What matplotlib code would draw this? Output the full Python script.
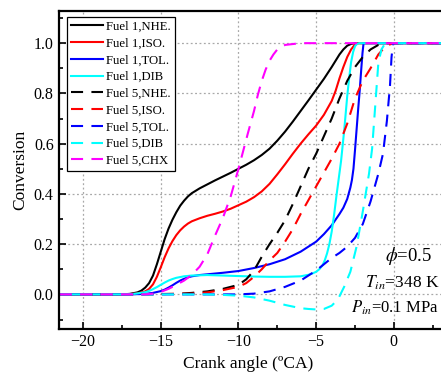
import matplotlib
matplotlib.use("Agg")
import matplotlib.pyplot as plt
from matplotlib.ticker import MultipleLocator

plt.rcParams["font.family"] = ["Liberation Serif", "DejaVu Serif"]
plt.rcParams["mathtext.fontset"] = "stix"

# Fuel 1 (solid lines)
f1_nhe_x = [-21.5, -17.5, -17, -16.5, -16.25, -16, -15.75, -15.5, -15.25, -15, -14.75, -14.5, -14.25,
            -14, -13.75, -13.5, -13.25, -13, -12.5, -12, -11.5, -11, -10.5, -10, -9.5, -9, -8.5, -8,
            -7.5, -7, -6.5, -6, -5.5, -5, -4.5, -4, -3.75, -3.5, -3.25, -3, -2.75, -2.5, 4]
f1_nhe_y = [0, 0, 0.002, 0.008, 0.015, 0.027, 0.045, 0.075, 0.12, 0.17, 0.22, 0.262, 0.297,
            0.327, 0.353, 0.373, 0.39, 0.403, 0.422, 0.438, 0.454, 0.469, 0.484, 0.5, 0.516, 0.534,
            0.555, 0.58, 0.612, 0.648, 0.688, 0.73, 0.772, 0.815, 0.858, 0.905, 0.93, 0.955, 0.975,
            0.99, 0.997, 1.0, 1.0]

f1_iso_x = [-21.5, -17.5, -17, -16.5, -16, -15.75, -15.5, -15.25, -15, -14.75, -14.5, -14.25, -14,
            -13.75, -13.5, -13.25, -13, -12.5, -12, -11.5, -11, -10.5, -10, -9.5, -9, -8.5, -8,
            -7.5, -7, -6.5, -6, -5.5, -5, -4.5, -4, -3.75, -3.5, -3.25, -3, -2.75, -2.5, -2.3, 4]
f1_iso_y = [0, 0, 0.001, 0.004, 0.012, 0.022, 0.04, 0.07, 0.108, 0.148, 0.183, 0.212, 0.236,
            0.255, 0.27, 0.282, 0.291, 0.303, 0.313, 0.321, 0.33, 0.341, 0.355, 0.369, 0.387, 0.41,
            0.44, 0.478, 0.518, 0.56, 0.6, 0.637, 0.672, 0.715, 0.77, 0.81, 0.86, 0.905, 0.945,
            0.975, 0.995, 1.0, 1.0]

f1_tol_x = [-21.5, -17, -16, -15.5, -15, -14.75, -14.5, -14.25, -14, -13.75, -13.5, -13.25, -13,
            -12.5, -12, -11, -10, -9, -8, -7, -6, -5, -4.5, -4, -3.5, -3.25, -3, -2.8, -2.7, -2.6,
            -2.5, -2.4, -2.3, -2.2, -2.1, -2.02, -1.95, 4]
f1_tol_y = [0, 0, 0.002, 0.006, 0.013, 0.019, 0.027, 0.036, 0.046, 0.055, 0.062, 0.068, 0.072,
            0.077, 0.08, 0.086, 0.093, 0.105, 0.12, 0.14, 0.17, 0.21, 0.24, 0.275, 0.32, 0.345,
            0.38, 0.425, 0.455, 0.5, 0.575, 0.655, 0.735, 0.81, 0.895, 0.96, 1.0, 1.0]

f1_dib_x = [-21.5, -17, -16.5, -16, -15.75, -15.5, -15.25, -15, -14.75, -14.5, -14.25, -14, -13.5,
            -13, -12, -11, -10, -9, -8, -7, -6, -5.5, -5.25, -5, -4.8, -4.6, -4.45, -4.3, -4.15,
            -4.0, -3.85, -3.7, -3.55, -3.4, -3.3, -3.2, -3.1, -3.0, -2.87, -2.75, -2.62, -2.5,
            -2.35, -2.2, 4]
f1_dib_y = [0, 0, 0.004, 0.009, 0.014, 0.021, 0.029, 0.038, 0.047, 0.055, 0.061, 0.066, 0.072,
            0.075, 0.077, 0.075, 0.073, 0.071, 0.07, 0.07, 0.072, 0.078, 0.083, 0.09, 0.1, 0.115,
            0.135, 0.163, 0.2, 0.25, 0.315, 0.39, 0.46, 0.53, 0.59, 0.65, 0.72, 0.79, 0.865, 0.925,
            0.965, 0.988, 0.998, 1.0, 1.0]

# Fuel 5 (dashed lines)
f5_nhe_x = [-21.5, -17, -14, -13, -12, -11, -10, -9.5, -9, -8.5, -8, -7.5, -7, -6.5, -6, -5.5, -5,
            -4.5, -4, -3.5, -3, -2.5, -2, -1.5, -1, -0.5, 4]
f5_nhe_y = [0, 0, 0.002, 0.006, 0.012, 0.022, 0.038, 0.06, 0.095, 0.15, 0.2, 0.245, 0.295, 0.36, 0.43,
            0.5, 0.56, 0.63, 0.7, 0.78, 0.85, 0.905, 0.945, 0.975, 0.993, 1.0, 1.0]

f5_iso_x = [-21.5, -17, -13, -12, -11, -10, -9.5, -9, -8.5, -8, -7.5, -7, -6.5, -6, -5.5, -5, -4.5,
            -4, -3.5, -3, -2.5, -2, -1.5, -1, -0.5, 0, 4]
f5_iso_y = [0, 0, 0.003, 0.008, 0.017, 0.03, 0.045, 0.07, 0.1, 0.135, 0.165, 0.21, 0.26, 0.32, 0.375,
            0.43, 0.485, 0.54, 0.6, 0.68, 0.78, 0.85, 0.9, 0.955, 0.99, 1.0, 1.0]

f5_tol_x = [-21.5, -10, -9, -8, -7, -6, -5, -4.5, -4, -3.5, -3, -2.5, -2, -1.5, -1, -0.7, -0.45,
            -0.25, -0.15, -0.05, 4]
f5_tol_y = [0, 0, 0.003, 0.012, 0.03, 0.055, 0.095, 0.12, 0.145, 0.165, 0.19, 0.225, 0.28, 0.37,
            0.48, 0.56, 0.69, 0.83, 0.945, 1.0, 1.0]

f5_dib_x = [-21.5, -12, -11, -10, -9, -8, -7, -6, -5.5, -5, -4.5, -4, -3.6, -3.2, -2.8, -2.4, -2,
            -1.6, -1.4, -1.2, -1.0, -0.8, -0.6, -0.4, 4]
f5_dib_y = [0, 0, -0.002, -0.005, -0.012, -0.025, -0.042, -0.055, -0.058, -0.06, -0.058, -0.045,
            -0.02, 0.03, 0.09, 0.19, 0.33, 0.48, 0.58, 0.75, 0.92, 0.975, 0.995, 1.0, 1.0]

f5_chx_x = [-21.5, -16, -15.5, -15, -14.5, -14, -13.5, -13, -12.5, -12, -11.5, -11, -10.5, -10,
            -9.7, -9.4, -9.2, -9, -8.75, -8.5, -8.25, -8, -7.75, -7.5, -7, -6, 4]
f5_chx_y = [0, 0, 0.003, 0.01, 0.022, 0.038, 0.055, 0.078, 0.11, 0.16, 0.235, 0.305, 0.39, 0.5,
            0.57, 0.64, 0.685, 0.73, 0.795, 0.85, 0.895, 0.93, 0.955, 0.975, 0.993, 1.0, 1.0]

series = [
    ("Fuel 1,NHE.", f1_nhe_x, f1_nhe_y, "black", "-"),
    ("Fuel 1,ISO.", f1_iso_x, f1_iso_y, "red", "-"),
    ("Fuel 1,TOL.", f1_tol_x, f1_tol_y, "blue", "-"),
    ("Fuel 1,DIB", f1_dib_x, f1_dib_y, "cyan", "-"),
    ("Fuel 5,NHE.", f5_nhe_x, f5_nhe_y, "black", "--"),
    ("Fuel 5,ISO.", f5_iso_x, f5_iso_y, "red", "--"),
    ("Fuel 5,TOL.", f5_tol_x, f5_tol_y, "blue", "--"),
    ("Fuel 5,DIB", f5_dib_x, f5_dib_y, "cyan", "--"),
    ("Fuel 5,CHX", f5_chx_x, f5_chx_y, "magenta", "--"),
]

x_ticks = [-20, -15, -10, -5, 0]
y_ticks = [0.0, 0.2, 0.4, 0.6, 0.8, 1.0]

fig = plt.figure(figsize=(4.41, 3.78), dpi=100)
ax = fig.add_axes([0.1327, 0.1288, 0.9366, 0.8421])

for label, xs, ys, color, ls in series:
    kw = dict(color=color, lw=1.5, label=label, solid_joinstyle="round")
    if ls == "--":
        kw["dashes"] = (5.8, 4.0)
    ax.plot(xs, ys, **kw)

ax.set_xlim(-21.58, 5)
ax.set_ylim(-0.139, 1.128)
ax.set_xticks(x_ticks)
ax.set_yticks(y_ticks)
ax.xaxis.set_minor_locator(MultipleLocator(2.5))
ax.yaxis.set_minor_locator(MultipleLocator(0.1))
ax.grid(True, which="major", color="#a8a8a8", linestyle=(0, (1.5, 2)), lw=0.9)
ax.tick_params(which="both", direction="in", labelsize=11.5, width=1.2)
ax.tick_params(which="major", length=5)
ax.tick_params(which="minor", length=3)
for sp in ax.spines.values():
    sp.set_linewidth(1.6)

ax.set_xlabel("Crank angle (ºCA)", fontsize=12.5)
ax.xaxis.set_label_coords(0.459, -0.085)
ax.set_ylabel("Conversion", fontsize=12.5, labelpad=4)

leg = ax.legend(loc="upper left", bbox_to_anchor=(0.0206, 0.981), borderaxespad=0,
                fontsize=9.2, handlelength=2.5, handletextpad=0.25, labelspacing=0.37,
                borderpad=0.3, fancybox=False, framealpha=1, edgecolor="black")
leg.get_frame().set_linewidth(0.9)

ax.text(-0.6, 0.153, r"$\phi$=0.5", fontsize=13.5, ha="left", va="center")
ax.text(-1.87, 0.045, r"$T_{in}$=348 K", fontsize=12.5, ha="left", va="center")
ax.text(-2.78, -0.055, r"$P_{in}$=0.1 MPa", fontsize=12, ha="left", va="center")

fig.savefig("out.png", dpi=100)
